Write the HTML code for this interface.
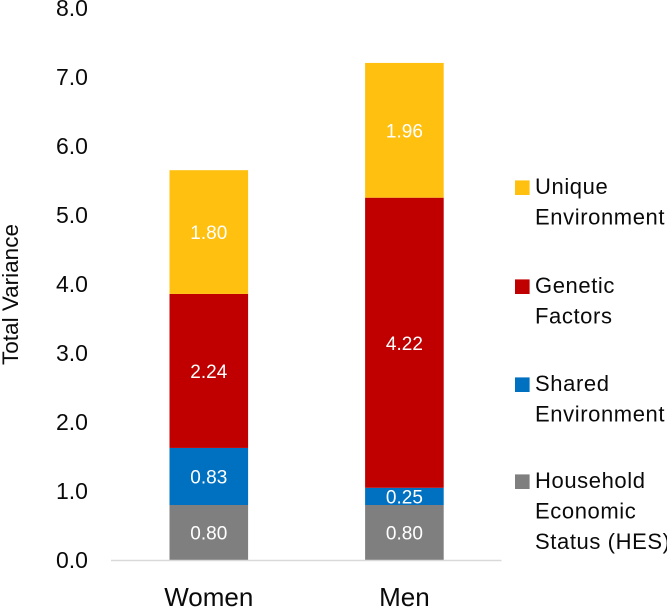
<!DOCTYPE html>
<html lang="en">
<head>
<meta charset="utf-8">
<title>Total Variance by Sex</title>
<style>
html,body{margin:0;padding:0;background:#fff;width:667px;height:607px;overflow:hidden}
svg{display:block;font-family:"Liberation Sans",sans-serif}
</style>
</head>
<body>
<svg id="chart" width="667" height="607" viewBox="0 0 667 607" xmlns="http://www.w3.org/2000/svg"></svg>
<script>
const categories = ['Women', 'Men'];
const householdValues = [0.80, 0.80];
const sharedValues = [0.83, 0.25];
const geneticValues = [2.24, 4.22];
const uniqueValues = [1.80, 1.96];
const tickLabels = ['0.0', '1.0', '2.0', '3.0', '4.0', '5.0', '6.0', '7.0', '8.0'];
const seriesNames = ['household', 'shared', 'genetic', 'unique'];
const legendNames = [['Household', 'Economic', 'Status (HES)'], ['Shared', 'Environment'], ['Genetic', 'Factors'], ['Unique', 'Environment']];

const seriesValues = [householdValues, sharedValues, geneticValues, uniqueValues];
const seriesColors = ['#7F7F7F', '#0070C0', '#C00000', '#FFC00F'];
const svg = document.getElementById('chart');
const NS = 'http://www.w3.org/2000/svg';

function add(tag, attrs, text) {
  const el = document.createElementNS(NS, tag);
  for (const k in attrs) el.setAttribute(k, attrs[k]);
  if (text !== undefined) el.textContent = text;
  svg.appendChild(el);
  return el;
}
const y = v => 560 - v * 68.75;
const tickY = v => 560 - v * 69;
const bandCenter = i => 208.8 + i * 195.6;
const barWidth = 78.6;

/* y tick labels */
tickLabels.forEach(t => {
  const el = add('text', {x: 72, y: tickY(parseFloat(t)) + 8, 'text-anchor': 'middle', 'font-size': 23, fill: '#0a0a0a'}, t);
  
  
});

/* y axis title */
const yTitle = add('text', {transform: 'translate(18,294.5) rotate(-90)', 'text-anchor': 'middle', 'font-size': 22.5, fill: '#0a0a0a'}, 'Total Variance');



/* bars */
categories.forEach((c, i) => {
  let base = 0;
  seriesValues.forEach((vals, s) => {
    const v = vals[i];
    const top = base + v;
    const bar = add('rect', {x: bandCenter(i) - barWidth / 2, y: y(top), width: barWidth, height: y(base) - y(top), fill: seriesColors[s]});
    
    
    const lab = add('text', {x: bandCenter(i), y: (y(base) + y(top)) / 2 + 7, 'text-anchor': 'middle', 'font-size': 19, fill: '#fff'}, v.toFixed(2));
    
    
    base = top;
  });
  const cat = add('text', {x: bandCenter(i), y: 606, 'text-anchor': 'middle', 'font-size': 26, fill: '#0a0a0a'}, c);
  
  
});

/* x axis line */
const axis = add('line', {x1: 111, x2: 501.5, y1: 560.5, y2: 560.5, stroke: '#D9D9D9', 'stroke-width': 1.6});



/* legend: rows run bottom to top, each row's first line baseline */
const legendFirstBaseline = [488, 391, 293, 194];
const legendGap = 30.5;
legendNames.forEach((lines, s) => {
  const b = legendFirstBaseline[s];
  const sw = add('rect', {x: 515, y: b - 13.6, width: 14.6, height: 14.6, fill: seriesColors[s]});
  
  
  lines.forEach((line, k) => {
    const t = add('text', {x: 535, y: b + k * legendGap, 'font-size': 22, 'letter-spacing': 0.6, fill: '#0a0a0a'}, line);
    
    
  });
});
</script>
</body>
</html>
